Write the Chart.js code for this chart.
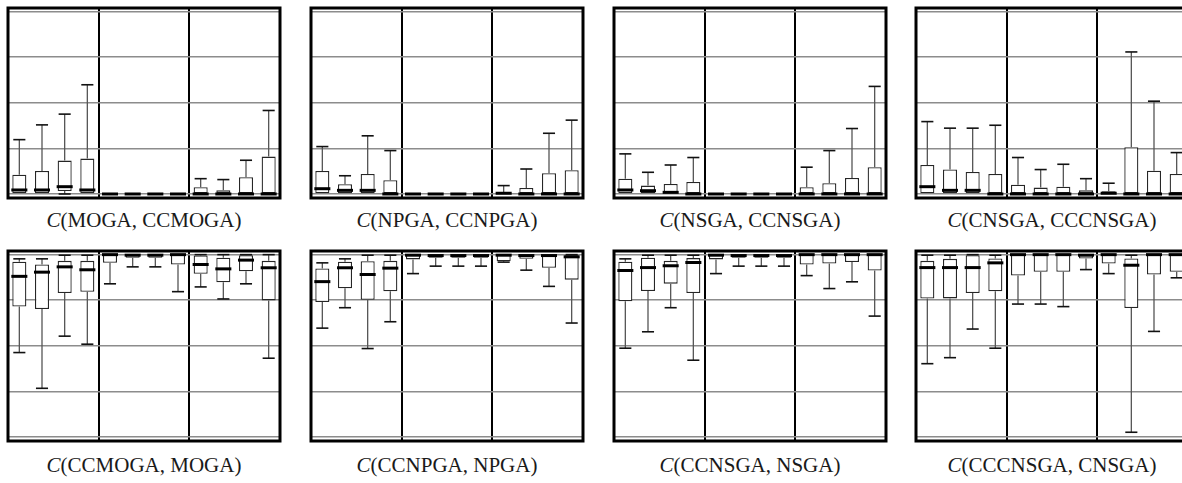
<!DOCTYPE html>
<html>
<head>
<meta charset="utf-8">
<script src="https://cdn.jsdelivr.net/npm/chart.js@4/dist/chart.umd.min.js"></script>
<style>
  html, body { margin: 0; padding: 0; background: #fff; }
  body { position: relative; width: 1182px; height: 483px; overflow: hidden; }
  canvas { position: absolute; }
  .cap {
    position: absolute; width: 300px; text-align: center;
    font-family: "Liberation Serif", "Times New Roman", serif;
    font-size: 21px; line-height: 21px; color: #1a1a1a; white-space: nowrap;
  }
</style>
</head>
<body>
<script>
// Twelve box positions per panel, three groups of four
const boxSlots = ['1', '2', '3', '4', '5', '6', '7', '8', '9', '10', '11', '12'];
const groupBreaks = [4, 8];
const gridValues = [0, 0.25, 0.5, 0.75, 1];

// Panel captions: C(first, second)
const pairFirst  = ['MOGA', 'NPGA', 'NSGA', 'CNSGA', 'CCMOGA', 'CCNPGA', 'CCNSGA', 'CCCNSGA'];
const pairSecond = ['CCMOGA', 'CCNPGA', 'CCNSGA', 'CCCNSGA', 'MOGA', 'NPGA', 'NSGA', 'CNSGA'];

// Five-number summaries per box: [min, q1, median, q3, max]
const MOGA_CCMOGA = [
  [0, 0, 0.022, 0.106, 0.298], [0, 0, 0.022, 0.126, 0.379], [0, 0.016, 0.040, 0.183, 0.438], [0, 0, 0.022, 0.194, 0.599],
  [0, 0, 0, 0, 0], [0, 0, 0, 0, 0], [0, 0, 0, 0, 0], [0, 0, 0, 0, 0],
  [0, 0, 0, 0.037, 0.084], [0, 0, 0, 0.020, 0.079], [0, 0, 0, 0.092, 0.185], [0, 0, 0, 0.205, 0.458]
];
const NPGA_CCNPGA = [
  [0, 0, 0.029, 0.126, 0.260], [0, 0, 0.020, 0.053, 0.100], [0, 0, 0.020, 0.110, 0.319], [0, 0, 0, 0.075, 0.238],
  [0, 0, 0, 0, 0], [0, 0, 0, 0, 0], [0, 0, 0, 0, 0], [0, 0, 0, 0, 0],
  [0, 0, 0.004, 0.011, 0.046], [0, 0, 0, 0.033, 0.137], [0, 0, 0, 0.114, 0.333], [0, 0, 0, 0.130, 0.405]
];
const NSGA_CCNSGA = [
  [0, 0, 0.022, 0.084, 0.220], [0, 0, 0.018, 0.046, 0.119], [0, 0, 0.009, 0.055, 0.159], [0, 0, 0, 0.066, 0.200],
  [0, 0, 0, 0, 0], [0, 0, 0, 0, 0], [0, 0, 0, 0, 0], [0, 0, 0, 0, 0],
  [0, 0, 0, 0.037, 0.147], [0, 0, 0, 0.059, 0.238], [0, 0, 0, 0.088, 0.359], [0, 0, 0, 0.147, 0.590]
];
const CNSGA_CCCNSGA = [
  [0, 0, 0.040, 0.159, 0.397], [0, 0, 0.020, 0.134, 0.361], [0, 0, 0.020, 0.121, 0.361], [0, 0, 0, 0.110, 0.377],
  [0, 0, 0, 0.051, 0.200], [0, 0, 0, 0.035, 0.134], [0, 0, 0, 0.040, 0.163], [0, 0, 0, 0.020, 0.084],
  [0, 0, 0.004, 0.015, 0.059], [0, 0, 0, 0.257, 0.779], [0, 0, 0, 0.128, 0.509], [0, 0, 0, 0.110, 0.227]
];
const CCMOGA_MOGA = [
  [0.463, 0.716, 0.881, 0.961, 0.977], [0.267, 0.702, 0.904, 0.946, 0.977], [0.553, 0.790, 0.933, 0.966, 0.997], [0.509, 0.796, 0.917, 0.966, 0.997],
  [0.840, 0.955, 1.0, 1.0, 1.0], [0.933, 0.983, 0.997, 1.0, 1.0], [0.933, 0.983, 0.997, 1.0, 1.0], [0.797, 0.946, 1.0, 1.0, 1.0],
  [0.823, 0.895, 0.946, 0.995, 1.0], [0.757, 0.849, 0.922, 0.983, 1.0], [0.840, 0.909, 0.970, 0.997, 1.0], [0.432, 0.749, 0.928, 0.966, 1.0]
];
const CCNPGA_NPGA = [
  [0.597, 0.740, 0.852, 0.924, 0.955], [0.709, 0.816, 0.928, 0.961, 0.977], [0.485, 0.753, 0.891, 0.964, 0.997], [0.632, 0.799, 0.926, 0.966, 0.997],
  [0.896, 0.974, 0.997, 1.0, 1.0], [0.937, 0.983, 0.995, 1.0, 1.0], [0.937, 0.983, 0.995, 1.0, 1.0], [0.937, 0.983, 0.995, 1.0, 1.0],
  [0.959, 0.964, 0.997, 1.0, 1.0], [0.915, 0.977, 0.995, 1.0, 1.0], [0.826, 0.928, 0.995, 1.0, 1.0], [0.625, 0.863, 0.988, 0.997, 1.0]
];
const CCNSGA_NSGA = [
  [0.487, 0.744, 0.913, 0.961, 0.977], [0.577, 0.801, 0.929, 0.983, 0.997], [0.709, 0.841, 0.939, 0.966, 0.997], [0.421, 0.790, 0.957, 0.981, 0.997],
  [0.896, 0.974, 0.997, 1.0, 1.0], [0.937, 0.983, 0.995, 1.0, 1.0], [0.937, 0.983, 0.995, 1.0, 1.0], [0.937, 0.983, 0.995, 1.0, 1.0],
  [0.885, 0.946, 1.0, 1.0, 1.0], [0.814, 0.951, 1.0, 1.0, 1.0], [0.851, 0.959, 1.0, 1.0, 1.0], [0.663, 0.913, 1.0, 1.0, 1.0]
];
const CCCNSGA_CNSGA = [
  [0.402, 0.759, 0.929, 0.966, 0.997], [0.435, 0.760, 0.929, 0.977, 0.997], [0.592, 0.790, 0.929, 0.997, 1.0], [0.487, 0.799, 0.955, 0.979, 0.997],
  [0.729, 0.885, 1.0, 1.0, 1.0], [0.729, 0.906, 1.0, 1.0, 1.0], [0.715, 0.906, 1.0, 1.0, 1.0], [0.918, 0.979, 0.997, 1.0, 1.0],
  [0.896, 0.951, 1.0, 1.0, 1.0], [0.026, 0.707, 0.942, 0.979, 0.997], [0.579, 0.891, 1.0, 1.0, 1.0], [0.873, 0.906, 1.0, 1.0, 1.0]
];

const panelSeries = [
  MOGA_CCMOGA, NPGA_CCNPGA, NSGA_CCNSGA, CNSGA_CCCNSGA,
  CCMOGA_MOGA, CCNPGA_NPGA, CCNSGA_NSGA, CCCNSGA_CNSGA
];

// Page layout
const colLeft = [8, 311, 614, 916];
const rowTop = [8, 251];
const plotW = 272, plotH = 190, pad = 6;
const captionTop = [210, 455];

// Whiskers and median bars, placed through the chart's own scales
function boxMarks(stats) {
  return {
    id: 'boxMarks',
    afterDatasetsDraw(chart) {
      const ctx = chart.ctx;
      const y = chart.scales.y;
      const meta = chart.getDatasetMeta(0);
      ctx.save();
      ctx.lineCap = 'butt';
      meta.data.forEach((bar, i) => {
        const [mn, q1, md, q3, mx] = stats[i];
        const cx = bar.x;
        const hw = bar.width / 2;
        const capHalf = hw * 0.86;
        const whisker = (from, to) => {
          const p0 = y.getPixelForValue(from), p1 = y.getPixelForValue(to);
          ctx.strokeStyle = '#555';
          ctx.lineWidth = 1.3;
          ctx.beginPath(); ctx.moveTo(cx, p0); ctx.lineTo(cx, p1); ctx.stroke();
          ctx.strokeStyle = '#111';
          ctx.lineWidth = 1.6;
          ctx.beginPath(); ctx.moveTo(cx - capHalf, p1); ctx.lineTo(cx + capHalf, p1); ctx.stroke();
        };
        if (mx > q3) whisker(q3, mx);
        if (mn < q1) whisker(q1, mn);
        const pm = y.getPixelForValue(md);
        ctx.strokeStyle = '#000';
        ctx.lineWidth = 3;
        ctx.beginPath(); ctx.moveTo(cx - hw - 1, pm); ctx.lineTo(cx + hw + 1, pm); ctx.stroke();
      });
      ctx.restore();
    }
  };
}

const frame = {
  id: 'frame',
  afterDraw(chart) {
    const { ctx, chartArea: a } = chart;
    ctx.save();
    ctx.strokeStyle = '#000';
    ctx.lineWidth = 3;
    ctx.strokeRect(a.left, a.top, a.right - a.left, a.bottom - a.top);
    ctx.restore();
  }
};

panelSeries.forEach((stats, p) => {
  const col = p % 4, row = Math.floor(p / 4);
  const canvas = document.createElement('canvas');
  canvas.width = plotW + 2 * pad;
  canvas.height = plotH + 2 * pad;
  canvas.style.width = canvas.width + 'px';
  canvas.style.height = canvas.height + 'px';
  canvas.style.left = (colLeft[col] - pad) + 'px';
  canvas.style.top = (rowTop[row] - pad) + 'px';
  document.body.appendChild(canvas);

  new Chart(canvas, {
    type: 'bar',
    data: {
      labels: boxSlots,
      datasets: [{
        data: stats.map(s => [s[1], s[3]]),
        backgroundColor: '#fff',
        borderColor: '#262626',
        borderWidth: 1.3,
        borderSkipped: false,
        barPercentage: 0.62,
        categoryPercentage: 1
      }]
    },
    options: {
      responsive: false,
      animation: false,
      events: [],
      layout: { padding: pad },
      plugins: { legend: { display: false }, tooltip: { enabled: false } },
      scales: {
        x: {
          type: 'category',
          offset: true,
          ticks: { display: false },
          border: { display: false },
          grid: {
            offset: true,
            drawTicks: false,
            lineWidth: 2,
            color: c => groupBreaks.includes(c.index) ? '#000' : 'rgba(0,0,0,0)'
          },
          afterFit: s => { s.height = 0; }
        },
        y: {
          type: 'linear',
          min: -0.022,
          max: 1.02,
          ticks: { display: false },
          border: { display: false },
          grid: { color: '#8c8c8c', lineWidth: 1.5, drawTicks: false },
          afterBuildTicks: s => { s.ticks = gridValues.map(v => ({ value: v })); },
          afterFit: s => { s.width = 0; }
        }
      }
    },
    plugins: [boxMarks(stats), frame]
  });

  const cap = document.createElement('div');
  cap.className = 'cap';
  cap.style.left = (colLeft[col] + plotW / 2 - 150) + 'px';
  cap.style.top = captionTop[row] + 'px';
  const it = document.createElement('i');
  it.textContent = 'C';
  cap.appendChild(it);
  cap.appendChild(document.createTextNode('(' + pairFirst[p] + ', ' + pairSecond[p] + ')'));
  document.body.appendChild(cap);
});
</script>
</body>
</html>
